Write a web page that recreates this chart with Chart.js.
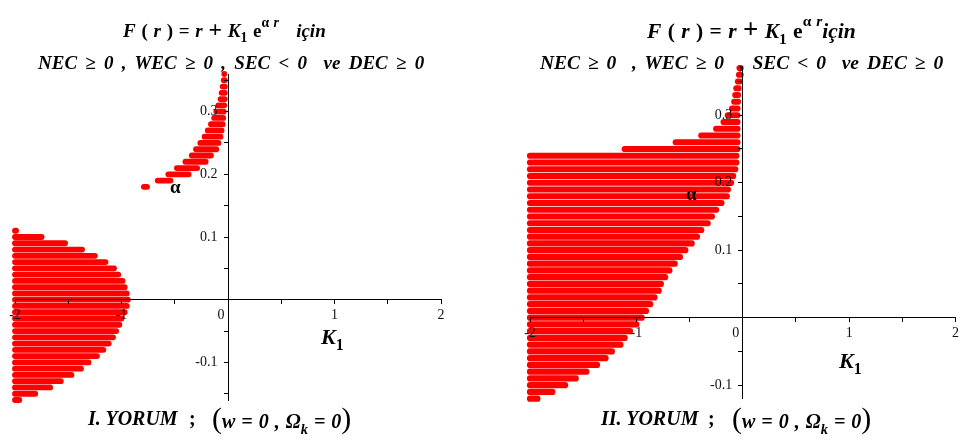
<!DOCTYPE html>
<html>
<head>
<meta charset="utf-8">
<script src="https://cdn.jsdelivr.net/npm/chart.js@4/dist/chart.umd.min.js"></script>
<style>
  html, body { margin: 0; padding: 0; background: #fff; }
  #page { position: relative; width: 962px; height: 444px; overflow: hidden;
          font-family: "Liberation Serif", "Times New Roman", serif; }
  canvas { position: absolute; top: 0; }
  .t { position: absolute; font-weight: bold; white-space: pre; color: #000; line-height: 18px; }
  .t i { font-style: italic; }
  .t sub { font-size: 72%; vertical-align: -0.4em; line-height: 0; }
  .t sup { font-size: 72%; vertical-align: 0.75em; line-height: 0; }
  .big { font-size: 125%; }
  .par { font-size: 150%; font-weight: normal; }
</style>
</head>
<body>
<div id="page">
  <canvas id="left" width="460" height="444" style="left:0;width:460px;height:444px"></canvas>
  <canvas id="right" width="462" height="444" style="left:500px;width:462px;height:444px"></canvas>

  <div class="t" style="left:123px;top:20px;font-size:19px;word-spacing:1px"><i>F</i> ( <i>r</i> ) = <i>r</i> <span class="big">+</span> <i>K</i><sub>1</sub> e<sup>α <i>r</i></sup>   <i>için</i></div>
  <div class="t" style="left:38px;top:54px;font-size:19px;word-spacing:3.5px"><i>NEC ≥ 0 , WEC ≥ 0 , SEC &lt; 0  ve DEC ≥ 0</i></div>

  <div class="t" style="left:647px;top:20px;font-size:21.5px;word-spacing:1px"><i>F</i> ( <i>r</i> ) = <i>r</i> <span class="big">+</span> <i>K</i><sub>1</sub> e<sup>α <i>r</i></sup><i>için</i></div>
  <div class="t" style="left:540px;top:54px;font-size:19.5px;word-spacing:3px"><i>NEC ≥ 0  , WEC ≥ 0  , SEC &lt; 0  ve DEC ≥ 0</i></div>

  <div class="t" style="left:170px;top:178px;font-size:19px">α</div>
  <div class="t" style="left:686px;top:185px;font-size:19px">α</div>

  <div class="t" style="left:321px;top:328px;font-size:22px"><i>K</i><sub>1</sub></div>
  <div class="t" style="left:839px;top:352px;font-size:22px"><i>K</i><sub>1</sub></div>

  <div class="t" style="left:88px;top:409px;font-size:20px"><i>I. YORUM</i></div>
  <div class="t" style="left:189px;top:409px;font-size:20px">;</div>
  <div class="t" style="left:212px;top:409px;font-size:20px;word-spacing:1px"><span class="par">(</span><i>w = 0 , Ω<sub>k</sub> = 0</i><span class="par">)</span></div>

  <div class="t" style="left:601px;top:409px;font-size:20px"><i>II. YORUM</i></div>
  <div class="t" style="left:708px;top:409px;font-size:20px">;</div>
  <div class="t" style="left:732px;top:409px;font-size:20px;word-spacing:1px"><span class="par">(</span><i>w = 0 , Ω<sub>k</sub> = 0</i><span class="par">)</span></div>
</div>

<script>
// left panel, lower region (alpha <= 0.11), every row starts at K1 = -2
const leftLowAlpha = [0.11, 0.10, 0.09, 0.08, 0.07, 0.06, 0.05, 0.04, 0.03, 0.02, 0.01, 0.00,
  -0.01, -0.02, -0.03, -0.04, -0.05, -0.06, -0.07, -0.08, -0.09, -0.10, -0.11, -0.12, -0.13, -0.14, -0.15, -0.16];
const leftLowTo = [-1.99, -1.75, -1.53, -1.37, -1.25, -1.15, -1.07, -1.03, -0.99, -0.97, -0.95, -0.94,
  -0.95, -0.97, -1.00, -1.02, -1.05, -1.08, -1.12, -1.17, -1.23, -1.31, -1.38, -1.47, -1.57, -1.67, -1.81, -1.96];

// left panel, upper branch
const leftUpAlpha = [0.18, 0.19, 0.20, 0.21, 0.22, 0.23, 0.24, 0.25, 0.26, 0.27,
  0.28, 0.29, 0.30, 0.31, 0.32, 0.33, 0.34, 0.35, 0.36];
const leftUpFrom = [-0.79, -0.66, -0.56, -0.48, -0.40, -0.34, -0.30, -0.26, -0.22, -0.19,
  -0.16, -0.13, -0.11, -0.09, -0.07, -0.06, -0.05, -0.04, -0.035];
const leftUpTo = [-0.76, -0.54, -0.37, -0.29, -0.21, -0.16, -0.11, -0.09, -0.07, -0.06,
  -0.05, -0.045, -0.04, -0.035, -0.03, -0.03, -0.03, -0.03, -0.03];

// right panel
const rightAlpha = [-0.12, -0.11, -0.10, -0.09, -0.08, -0.07, -0.06, -0.05, -0.04, -0.03, -0.02, -0.01,
  0.00, 0.01, 0.02, 0.03, 0.04, 0.05, 0.06, 0.07, 0.08, 0.09, 0.10, 0.11, 0.12, 0.13, 0.14,
  0.15, 0.16, 0.17, 0.18, 0.19, 0.20, 0.21, 0.22, 0.23, 0.24, 0.25, 0.26, 0.27, 0.28, 0.29,
  0.30, 0.31, 0.32, 0.33, 0.34, 0.35, 0.36, 0.37];
const rightFrom = [-2, -2, -2, -2, -2, -2, -2, -2, -2, -2, -2, -2,
  -2, -2, -2, -2, -2, -2, -2, -2, -2, -2, -2, -2, -2, -2, -2,
  -2, -2, -2, -2, -2, -2, -2, -2, -2, -2, -1.11, -0.63, -0.39, -0.25, -0.18,
  -0.14, -0.10, -0.08, -0.07, -0.06, -0.045, -0.035, -0.03];
const rightTo = [-1.93, -1.79, -1.67, -1.57, -1.47, -1.37, -1.29, -1.23, -1.15, -1.11, -1.06, -1.00,
  -0.95, -0.91, -0.87, -0.83, -0.79, -0.77, -0.73, -0.69, -0.64, -0.59, -0.54, -0.48, -0.43, -0.39, -0.33,
  -0.29, -0.25, -0.20, -0.15, -0.14, -0.11, -0.09, -0.07, -0.06, -0.06, -0.05, -0.05, -0.05, -0.05, -0.05,
  -0.05, -0.05, -0.045, -0.045, -0.04, -0.03, -0.02, -0.02];

const xTicks = [-2, -1, 0, 1, 2];
const yTicks = [-0.1, 0.1, 0.2, 0.3];

const RED = '#ff0000';
const tickFont = { family: 'Liberation Serif', size: 14 };

function rows(alpha, from, to, width) {
  return alpha.map((a, i) => ({
    data: [{ x: from[i], y: a }, { x: to[i], y: a }],
    showLine: true,
    borderColor: RED,
    backgroundColor: RED,
    borderWidth: width,
    borderCapStyle: 'round',
    pointRadius: 0,
    clip: false,
  }));
}

function xLabel(v) {
  if (v === 0) return '0    ';
  return xTicks.includes(v) ? String(v) : '';
}

function yLabel(v) {
  const hit = yTicks.find(t => Math.abs(t - v) < 1e-6);
  return hit === undefined ? '' : hit.toFixed(1) + '   ';
}

// axes are drawn over the red rows, as in the original plot
function axis(extra) {
  return Object.assign({
    type: 'linear',
    border: { display: true, color: '#000', width: 1, z: 1 },
    grid: { drawOnChartArea: false, drawTicks: true, tickLength: 4, color: '#000', z: 1 },
  }, extra);
}

function plot(id, datasets, yMin, yMax, padding) {
  new Chart(document.getElementById(id), {
    type: 'scatter',
    data: { datasets: datasets },
    options: {
      responsive: false,
      animation: false,
      events: [],
      layout: { padding: padding },
      plugins: { legend: { display: false }, tooltip: { enabled: false } },
      scales: {
        x: axis({
          min: -2, max: 2, position: { y: 0 },
          afterFit: s => { s.height = 0; },
          ticks: { stepSize: 0.5, includeBounds: false, autoSkip: false, maxRotation: 0, z: 1,
                   padding: 3, color: '#111', font: tickFont, callback: xLabel },
        }),
        y: axis({
          min: yMin, max: yMax, position: { x: 0 },
          afterFit: s => { s.width = 0; },
          ticks: { stepSize: 0.05, includeBounds: false, autoSkip: false, z: 1,
                   color: '#111', font: tickFont, callback: yLabel },
        }),
      },
    },
  });
}

const leftSets = rows(leftLowAlpha, leftLowAlpha.map(() => -2), leftLowTo, 5.8)
  .concat(rows(leftUpAlpha, leftUpFrom, leftUpTo, 5.8));
plot('left', leftSets, -0.16, 0.36, { left: 15, top: 74, right: 19, bottom: 44 });

plot('right', rows(rightAlpha, rightFrom, rightTo, 6.2), -0.12, 0.37,
  { left: 30, top: 68, right: 2, bottom: 45.3 });
</script>
</body>
</html>
